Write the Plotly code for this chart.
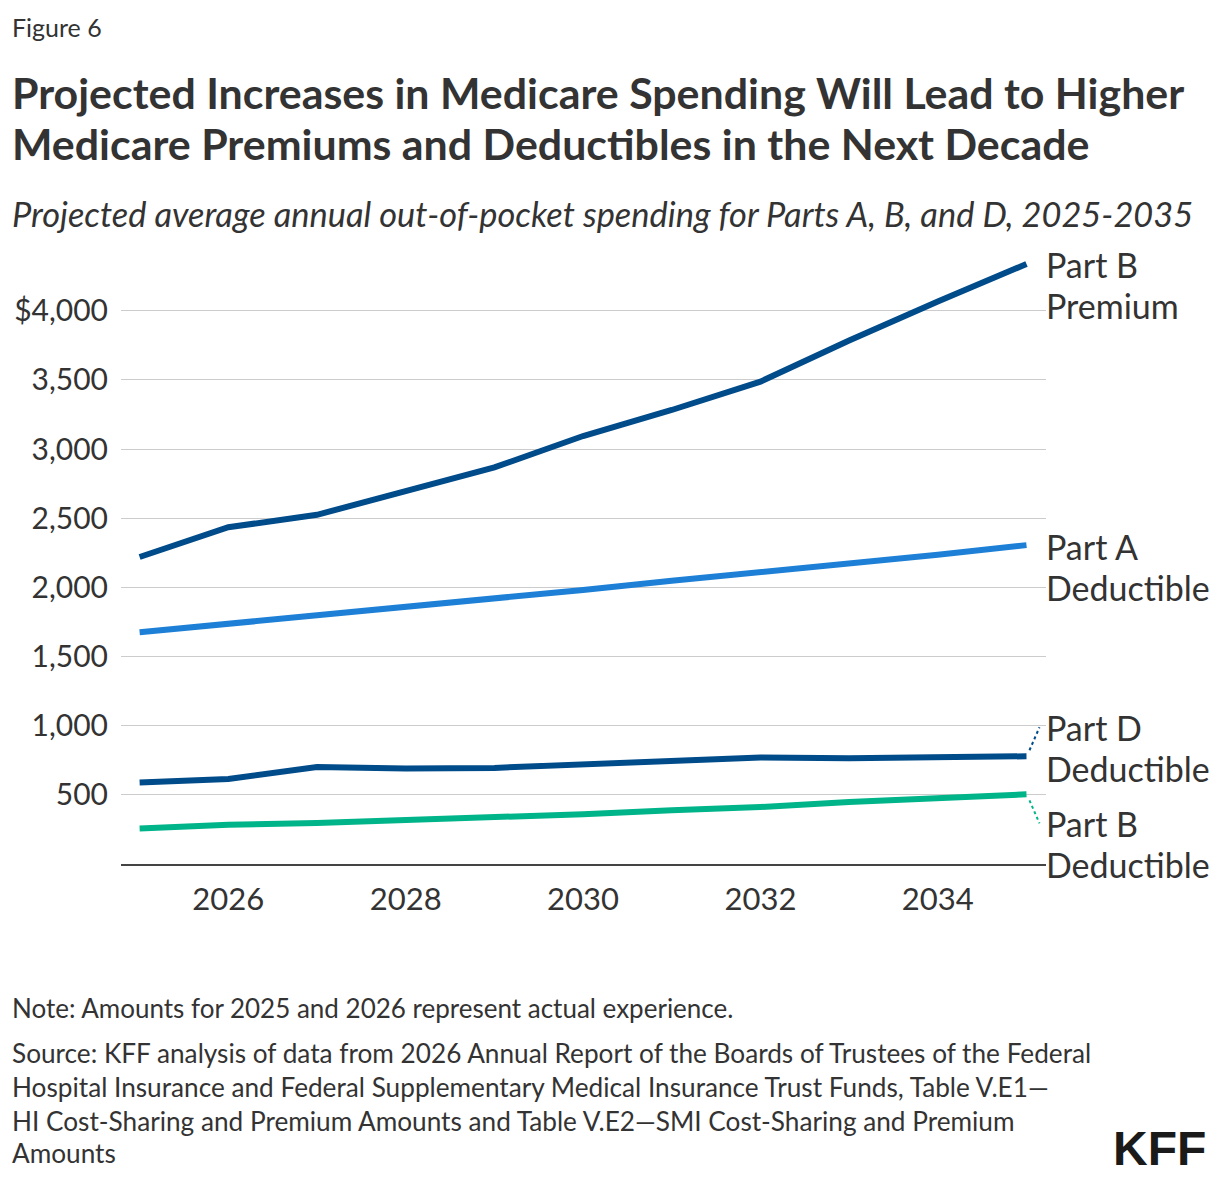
import plotly.graph_objects as go

years = [2025, 2026, 2027, 2028, 2029, 2030, 2031, 2032, 2033, 2034, 2035]
part_b_premium = [2220, 2435, 2525, 2692, 2868, 3095, 3283, 3488, 3785, 4067, 4339]
part_a_deductible = [1676, 1736, 1792, 1852, 1915, 1982, 2048, 2110, 2170, 2236, 2306]
part_d_deductible = [590, 615, 702, 690, 695, 719, 748, 770, 765, 767, 779]
part_b_deductible = [257, 283, 297, 316, 333, 360, 389, 412, 449, 473, 504]

series_line1 = ["Part B", "Part A", "Part D", "Part B"]
series_line2 = ["Premium", "Deductible", "Deductible", "Deductible"]
series_values = [part_b_premium, part_a_deductible, part_d_deductible, part_b_deductible]
series_colors = ["#004b8a", "#1d80d6", "#004b8a", "#00b48a"]
label_yshift = [-1, -1, 29, -29]   # first label line offset from last point (px, up positive)
LABEL_GAP = 41

y_tickvals = [500, 1000, 1500, 2000, 2500, 3000, 3500, 4000]
y_ticktext = ["500", "1,000", "1,500", "2,000", "2,500", "3,000", "3,500", "$4,000"]
x_tickvals = [2026, 2028, 2030, 2032, 2034]

FONT = "Lato, 'Source Sans Pro', sans-serif"
TXT = "#333333"

W, H = 1220, 1182
LEFT, RIGHT, TOP, BOTTOM = 121, 1046, 250, 864

def px(p):
    return (p - LEFT) / (RIGHT - LEFT)

def py(p):
    return (BOTTOM - p) / (BOTTOM - TOP)

fig = go.Figure()
for name, vals, col in zip(series_line1, series_values, series_colors):
    fig.add_trace(go.Scatter(x=years, y=vals, mode="lines", name=name,
                             line=dict(color=col, width=6), showlegend=False,
                             hoverinfo="skip"))

annotations = []
for l1, l2, vals, ys in zip(series_line1, series_line2, series_values, label_yshift):
    for txt, extra in ((l1, 0), (l2, -LABEL_GAP)):
        annotations.append(dict(x=years[-1], y=vals[-1], xref="x", yref="y", text=txt,
                                showarrow=False, xanchor="left", yanchor="middle",
                                xshift=18, yshift=ys + extra, align="left",
                                font=dict(family=FONT, size=34, color=TXT)))

shapes = [
    dict(type="line", xref="x", yref="y", xsizemode="pixel", ysizemode="pixel",
         xanchor=years[-1], yanchor=part_d_deductible[-1], x0=3, x1=13, y0=6, y1=29,
         line=dict(color=series_colors[2], width=2, dash="dot")),
    dict(type="line", xref="x", yref="y", xsizemode="pixel", ysizemode="pixel",
         xanchor=years[-1], yanchor=part_b_deductible[-1], x0=3, x1=13, y0=-6, y1=-29,
         line=dict(color=series_colors[3], width=2, dash="dot")),
]

def text_ann(t, xpix, ypix, size, bold=False, italic=False, color=TXT, family=FONT):
    s = t
    if bold:
        s = "<b>" + s + "</b>"
    if italic:
        s = "<i>" + s + "</i>"
    return dict(x=px(xpix), y=py(ypix), xref="paper", yref="paper", text=s,
                showarrow=False, xanchor="left", yanchor="middle", align="left",
                font=dict(family=family, size=size, color=color))

annotations += [
    text_ann("Figure 6", 10, 27, 25),
    text_ann("Projected Increases in Medicare Spending Will Lead to Higher", 10, 92, 42.9, bold=True),
    text_ann("Medicare Premiums and Deductibles in the Next Decade", 10, 144, 42.9, bold=True),
    text_ann("Projected average annual out-of-pocket spending for Parts A, B, and D, 2025-2035", 10, 213, 34.4, italic=True),
    text_ann("Note: Amounts for 2025 and 2026 represent actual experience.", 10, 1008, 26),
    text_ann("Source: KFF analysis of data from 2026 Annual Report of the Boards of Trustees of the Federal", 10, 1053, 26.2),
    text_ann("Hospital Insurance and Federal Supplementary Medical Insurance Trust Funds, Table V.E1\u2014", 10, 1087, 26.2),
    text_ann("HI Cost-Sharing and Premium Amounts and Table V.E2\u2014SMI Cost-Sharing and Premium", 10, 1121, 26.2),
    text_ann("Amounts", 10, 1153, 26.2),
]
annotations.append(dict(x=px(1208), y=py(1148), xref="paper", yref="paper", text="<b>KFF</b>",
                        showarrow=False, xanchor="right", yanchor="middle",
                        font=dict(family="Liberation Sans, Arial, sans-serif", size=48, color="#1a1a1a")))

fig.update_layout(
    width=W, height=H,
    margin=dict(l=LEFT, r=W - RIGHT, t=TOP, b=H - BOTTOM),
    paper_bgcolor="white", plot_bgcolor="white",
    font=dict(family=FONT, color=TXT),
    annotations=annotations, shapes=shapes,
    xaxis=dict(range=[2024.79, 2035.22], tickvals=x_tickvals, showgrid=False,
               showline=True, linecolor="#444444", linewidth=2, ticks="",
               ticklabelstandoff=7, tickfont=dict(family=FONT, size=31, color=TXT),
               zeroline=False, fixedrange=True),
    yaxis=dict(range=[0, 4440], tickvals=y_tickvals, ticktext=y_ticktext,
               showgrid=True, gridcolor="#cccccc", gridwidth=1, zeroline=False,
               showline=False, ticks="", ticklabelstandoff=12,
               tickfont=dict(family=FONT, size=30, color=TXT), fixedrange=True),
)

fig.write_html("out.html", config={"displayModeBar": False})
